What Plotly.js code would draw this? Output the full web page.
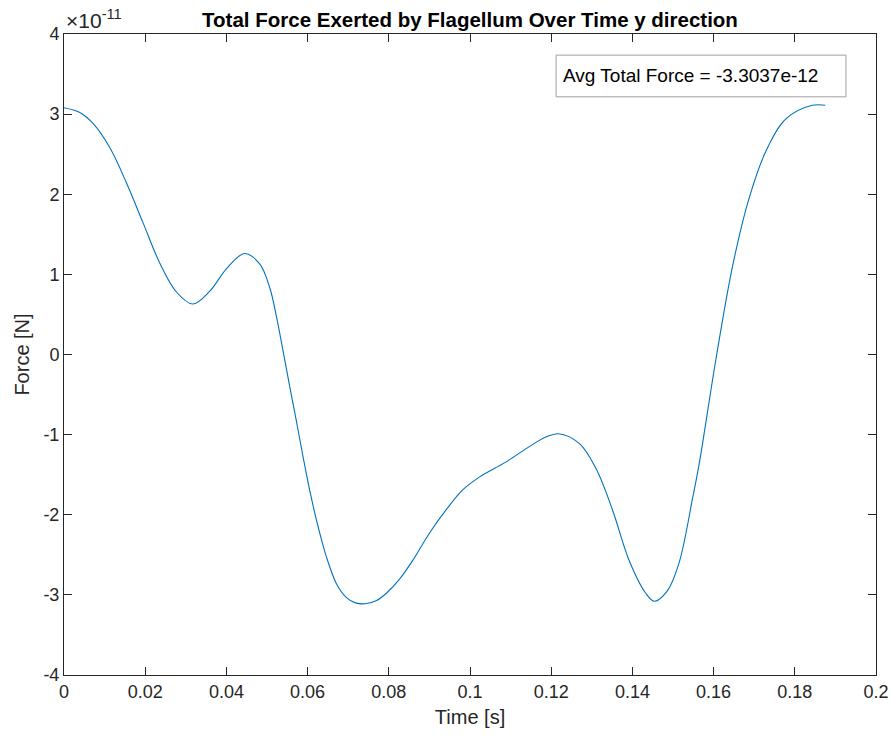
<!DOCTYPE html>
<html>
<head>
<meta charset="utf-8">
<script src="https://cdn.plot.ly/plotly-3.0.1.min.js"></script>
<style>
  html, body { margin: 0; padding: 0; background: #ffffff; }
  #chart { width: 891px; height: 735px; }
</style>
</head>
<body>
<div id="chart"></div>
<script>
// Time samples [s]
const time = [
  0.0000, 0.0039, 0.0072, 0.0113, 0.0154, 0.0195, 0.0236, 0.0277, 0.0317,
  0.0359, 0.0400, 0.0445, 0.0482, 0.0507, 0.0523, 0.0539, 0.0556, 0.0572,
  0.0589, 0.0605, 0.0622, 0.0646, 0.0671, 0.0695, 0.0718, 0.0742, 0.0770,
  0.0794, 0.0827, 0.0859, 0.0900, 0.0941, 0.0982, 0.1023, 0.1089, 0.1146,
  0.1187, 0.1218, 0.1269, 0.1310, 0.1351, 0.1392, 0.1433, 0.1454, 0.1486,
  0.1515, 0.1548, 0.1565, 0.1606, 0.1647, 0.1688, 0.1729, 0.1778, 0.1843,
  0.1875
];

// Total y-direction force, in units of 1e-11 N
const forceE11 = [
  3.08, 3.02, 2.88, 2.58, 2.14, 1.64, 1.14, 0.78, 0.63,
  0.79, 1.07, 1.26, 1.13, 0.83, 0.48, 0.06, -0.40, -0.82,
  -1.28, -1.69, -2.07, -2.52, -2.86, -3.03, -3.10, -3.11, -3.07,
  -2.98, -2.80, -2.57, -2.23, -1.94, -1.69, -1.53, -1.34, -1.15,
  -1.03, -0.99, -1.11, -1.42, -1.94, -2.57, -2.98, -3.08, -2.95,
  -2.60, -1.80, -1.35, -0.05, 1.11, 1.96, 2.54, 2.94, 3.11,
  3.11
];

const xTicks = [0, 0.02, 0.04, 0.06, 0.08, 0.1, 0.12, 0.14, 0.16, 0.18, 0.2];
const xTickText = ['0', '0.02', '0.04', '0.06', '0.08', '0.1', '0.12', '0.14', '0.16', '0.18', '0.2'];
const yTicks = [-4, -3, -2, -1, 0, 1, 2, 3, 4];
const yTickText = ['-4', '-3', '-2', '-1', '0', '1', '2', '3', '4'];

const avgText = 'Avg Total Force = -3.3037e-12';

const font = 'Liberation Sans, Arial, Helvetica, sans-serif';
const axisColor = '#262626';

const trace = {
  x: time,
  y: forceE11,
  type: 'scatter',
  mode: 'lines',
  line: { color: '#0072BD', width: 1.1, shape: 'spline', smoothing: 1 },
  hoverinfo: 'skip'
};

const axisCommon = {
  showgrid: false,
  zeroline: false,
  showline: true,
  mirror: 'ticks',
  linecolor: axisColor,
  linewidth: 1,
  ticks: 'inside',
  ticklen: 8,
  tickwidth: 1,
  tickcolor: axisColor,
  tickfont: { family: font, size: 18, color: axisColor }
};

const layout = {
  width: 891,
  height: 735,
  paper_bgcolor: '#ffffff',
  plot_bgcolor: '#ffffff',
  margin: { l: 64, r: 15, t: 34, b: 60 },
  showlegend: false,
  title: {
    text: '<b>Total Force Exerted by Flagellum Over Time y direction</b>',
    font: { family: font, size: 20.5, color: '#000000' },
    x: 0.5, xanchor: 'center', xref: 'paper',
    y: 1, yref: 'paper', yanchor: 'bottom', pad: { b: 7 }
  },
  xaxis: Object.assign({}, axisCommon, {
    range: [0, 0.2],
    tickmode: 'array',
    tickvals: xTicks,
    ticktext: xTickText,
    title: { text: 'Time [s]', font: { family: font, size: 20, color: axisColor }, standoff: 9 }
  }),
  yaxis: Object.assign({}, axisCommon, {
    range: [-4, 4],
    tickmode: 'array',
    tickvals: yTicks,
    ticktext: yTickText,
    title: { text: 'Force [N]', font: { family: font, size: 20, color: axisColor }, standoff: 8 }
  }),
  shapes: [
    {
      type: 'rect', xref: 'paper', yref: 'paper',
      x0: 0.606, x1: 0.963, y0: 0.902, y1: 0.967,
      line: { color: '#a0a0a0', width: 1 },
      fillcolor: '#ffffff', layer: 'above'
    }
  ],
  annotations: [
    {
      text: '\u00d710<sup>-11</sup>',
      xref: 'paper', yref: 'paper', x: 0, y: 1,
      xanchor: 'left', yanchor: 'bottom', yshift: 0,
      showarrow: false,
      font: { family: font, size: 21, color: axisColor }
    },
    {
      text: avgText,
      xref: 'paper', yref: 'paper', x: 0.612, y: 0.9345,
      xanchor: 'left', yanchor: 'middle',
      showarrow: false,
      font: { family: font, size: 19, color: '#000000' }
    }
  ]
};

Plotly.newPlot('chart', [trace], layout, { displayModeBar: false, staticPlot: true });
</script>
</body>
</html>
